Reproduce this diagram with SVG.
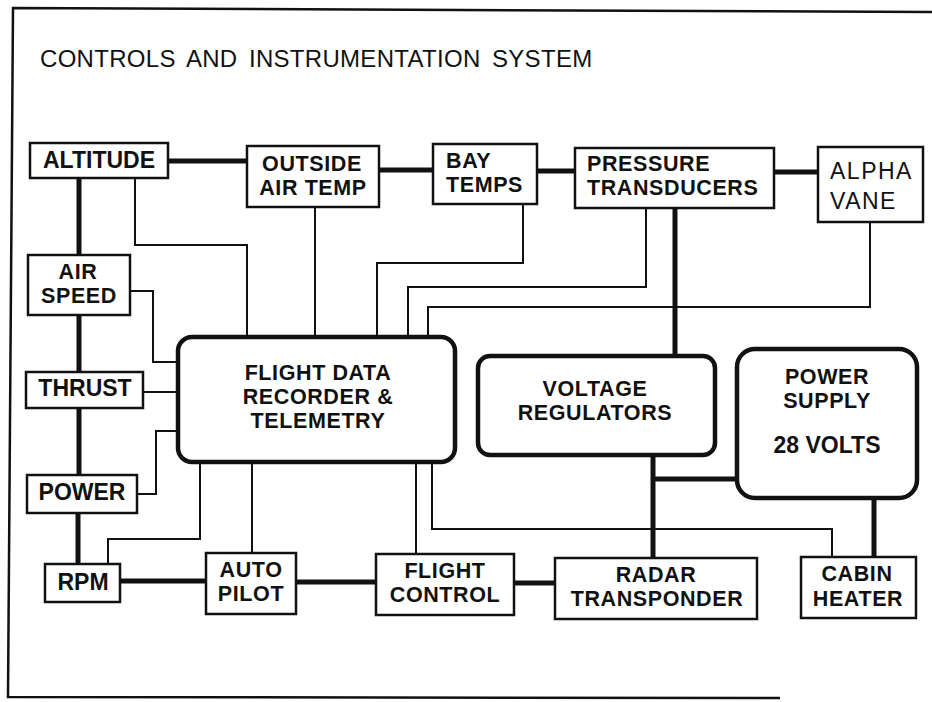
<svg xmlns="http://www.w3.org/2000/svg" width="932" height="702" viewBox="0 0 932 702">
<style>
.box{fill:#fff;stroke:#111;stroke-width:2.5}
.rbox{fill:#fff;stroke:#111;stroke-width:4.5}
.t{font-family:"Liberation Sans",Arial,sans-serif;font-weight:bold;font-size:23px;fill:#111;text-anchor:middle}
.m{font-size:21.5px;letter-spacing:0.6px}
.ts{text-anchor:start}
.thin{font-family:"Liberation Sans",Arial,sans-serif;font-weight:normal;font-size:23px;fill:#111;letter-spacing:1.5px}
.c1{fill:none;stroke:#111;stroke-width:5;stroke-linejoin:miter}
.c2{fill:none;stroke:#111;stroke-width:2;stroke-linejoin:miter}
</style>
<rect x="0" y="0" width="932" height="702" fill="#fff"/>
<polyline points="932,12 13,8 8,697 780,698" fill="none" stroke="#111" stroke-width="2.5"/>
<text x="40" y="67" class="thin" style="font-size:24px;letter-spacing:0.3px;word-spacing:4.5px">CONTROLS AND INSTRUMENTATION SYSTEM</text>

<g id="connectors">
  <line class="c1" x1="168" y1="161" x2="247" y2="161"/>
  <line class="c1" x1="379" y1="170" x2="433" y2="170"/>
  <line class="c1" x1="537" y1="171" x2="575" y2="171"/>
  <line class="c1" x1="774" y1="172" x2="818" y2="172"/>
  <line class="c1" x1="79" y1="178" x2="79" y2="255"/>
  <line class="c1" x1="79" y1="315" x2="79" y2="372"/>
  <line class="c1" x1="79" y1="408" x2="79" y2="475"/>
  <line class="c1" x1="78" y1="513" x2="78" y2="564"/>
  <line class="c1" x1="120" y1="581" x2="206" y2="581"/>
  <line class="c1" x1="296" y1="582" x2="376" y2="582"/>
  <line class="c1" x1="514" y1="583" x2="555" y2="583"/>
  <line class="c1" x1="675" y1="208" x2="675" y2="356"/>
  <line class="c1" x1="653" y1="455" x2="653" y2="558"/>
  <line class="c1" x1="653" y1="479" x2="737" y2="479"/>
  <line class="c1" x1="874" y1="498" x2="874" y2="557"/>
  <polyline class="c2" points="135,178 135,245 247,245 247,337"/>
  <line class="c2" x1="315" y1="207" x2="315" y2="337"/>
  <polyline class="c2" points="523,204 523,263 377,263 377,337"/>
  <polyline class="c2" points="646,208 646,287 408,287 408,337"/>
  <polyline class="c2" points="870,222 870,307 428,307 428,337"/>
  <polyline class="c2" points="130,291 153,291 153,362 178,362"/>
  <line class="c2" x1="143" y1="392" x2="178" y2="392"/>
  <polyline class="c2" points="137,494 156,494 156,431 178,431"/>
  <polyline class="c2" points="108,564 108,539 200,539 200,462"/>
  <line class="c2" x1="252" y1="553" x2="252" y2="462"/>
  <line class="c2" x1="416" y1="554" x2="416" y2="462"/>
  <polyline class="c2" points="432,462 432,529 832,529 832,557"/>
</g>

<g id="altitude"><rect class="box" x="30" y="143" width="138" height="35"/><text class="t" x="99" y="168">ALTITUDE</text></g>
<g id="outside-air-temp"><rect class="box" x="247" y="146" width="132" height="61"/><text class="t m" x="312" y="171">OUTSIDE</text><text class="t m" x="313" y="195">AIR TEMP</text></g>
<g id="bay-temps"><rect class="box" x="433" y="144" width="104" height="60"/><text class="t ts m" x="446" y="168">BAY</text><text class="t ts m" x="446" y="192">TEMPS</text></g>
<g id="pressure-transducers"><rect class="box" x="575" y="148" width="199" height="60"/><text class="t ts m" x="587" y="171">PRESSURE</text><text class="t ts m" x="587" y="195">TRANSDUCERS</text></g>
<g id="alpha-vane"><rect class="box" x="818" y="147" width="105" height="75"/><text class="thin" x="830" y="179">ALPHA</text><text class="thin" x="830" y="209">VANE</text></g>
<g id="air-speed"><rect class="box" x="28" y="255" width="102" height="60"/><text class="t m" x="78" y="279">AIR</text><text class="t m" x="79" y="303">SPEED</text></g>
<g id="thrust"><rect class="box" x="26" y="372" width="117" height="36"/><text class="t" x="85" y="396">THRUST</text></g>
<g id="power"><rect class="box" x="27" y="475" width="110" height="38"/><text class="t" x="82" y="500">POWER</text></g>
<g id="rpm"><rect class="box" x="45" y="564" width="75" height="38"/><text class="t" x="83" y="590">RPM</text></g>
<g id="auto-pilot"><rect class="box" x="206" y="553" width="90" height="61"/><text class="t m" x="251" y="577">AUTO</text><text class="t m" x="251" y="601">PILOT</text></g>
<g id="flight-control"><rect class="box" x="376" y="554" width="138" height="61"/><text class="t m" x="445" y="578">FLIGHT</text><text class="t m" x="445" y="602">CONTROL</text></g>
<g id="radar-transponder"><rect class="box" x="555" y="558" width="202" height="61"/><text class="t m" x="656" y="582">RADAR</text><text class="t m" x="657" y="606">TRANSPONDER</text></g>
<g id="cabin-heater"><rect class="box" x="801" y="557" width="115" height="61"/><text class="t m" x="857" y="581">CABIN</text><text class="t m" x="858" y="606">HEATER</text></g>
<g id="flight-data-recorder"><rect class="rbox" x="178" y="337" width="277" height="125" rx="14"/><text class="t m" x="318" y="380">FLIGHT DATA</text><text class="t m" x="318" y="404">RECORDER &amp;</text><text class="t m" x="318" y="428">TELEMETRY</text></g>
<g id="voltage-regulators"><rect class="rbox" x="478" y="356" width="237" height="99" rx="12"/><text class="t m" x="595" y="396">VOLTAGE</text><text class="t m" x="595" y="420">REGULATORS</text></g>
<g id="power-supply"><rect class="rbox" x="737" y="349" width="180" height="149" rx="18"/><text class="t m" x="827" y="384">POWER</text><text class="t m" x="827" y="408">SUPPLY</text><text class="t" x="827" y="453">28 VOLTS</text></g>
</svg>
